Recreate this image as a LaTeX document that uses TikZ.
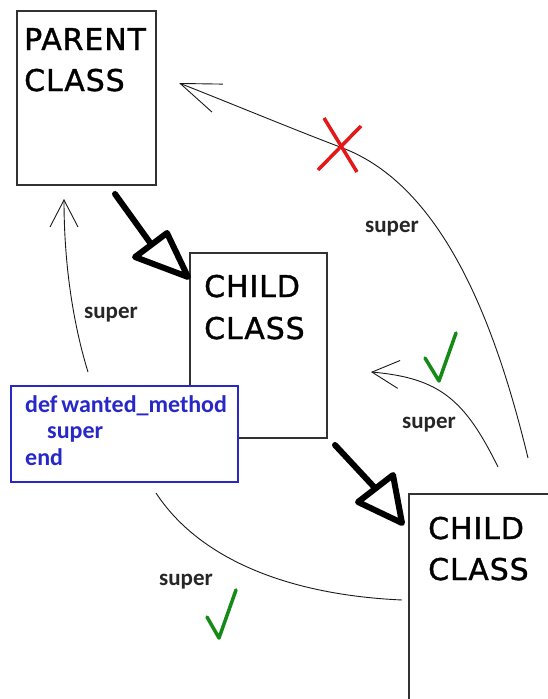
\documentclass[tikz,border=0pt]{standalone}
\usepackage{fontspec}
\setmainfont{DejaVu Sans}
\newfontfamily\bigfont[LetterSpace=3, FakeBold=1.2]{DejaVu Sans}
\newfontfamily\codefont{Carlito}
\usetikzlibrary{arrows.meta}
\definecolor{codeblue}{RGB}{40,40,200}
\definecolor{xred}{RGB}{228,24,24}
\definecolor{okgreen}{RGB}{22,138,22}
\definecolor{boxgray}{RGB}{50,50,50}
\tikzset{
  classbox/.style={draw=boxgray, line width=1.4pt, fill=white, inner sep=0pt},
  classlabel/.style={anchor=base west, inner sep=0pt, font=\bigfont\fontsize{30}{30}\selectfont},
  codebox/.style={draw=codeblue, line width=1.4pt, fill=white, inner sep=0pt},
  codeline/.style={anchor=base west, inner sep=0pt, text=codeblue, font=\codefont\bfseries\fontsize{24}{24}\selectfont},
  superlabel/.style={anchor=base west, inner sep=0pt, text=black!85, font=\codefont\bfseries\fontsize{23}{23}\selectfont},
  inherit/.style={line width=6pt, line cap=round},
  inherithead/.style={line width=6pt, line join=round},
  callarrow/.style={line width=0.9pt, black!90},
  smallbarb/.style={-{Straight Barb[length=27pt, width=28pt, line width=0.9pt]}},
  bigbarb/.style={-{Straight Barb[length=40pt, width=30pt, line width=0.9pt]}},
  crossmark/.style={xred, line width=3.5pt},
  tickmark/.style={okgreen, line width=3.5pt, line join=round, line cap=round}
}
\begin{document}
\begin{tikzpicture}[x=1pt,y=-1pt]
\useasboundingbox[fill=white] (0,0) rectangle (548,699);

% class boxes
\node[classbox, minimum width=139pt, minimum height=174pt] (parent) at (86.5,98) {};
\node[classbox, minimum width=137pt, minimum height=185pt] (child1) at (258.5,345.5) {};
\node[classbox, minimum width=141pt, minimum height=216pt] (child2) at (479.5,602) {};

\node[classlabel] (parentA) at (24,50) {PARENT};
\node[classlabel] (parentB) at (24,91) {CLASS};
\node[classlabel] (child1A) at (204,297) {CHILD};
\node[classlabel] (child1B) at (204,339) {CLASS};
\node[classlabel] (child2A) at (428,539) {CHILD};
\node[classlabel] (child2B) at (428,580) {CLASS};

% code box (on top of child1)
\node[codebox, minimum width=227pt, minimum height=96pt] (code) at (124.5,434) {};
\node[codeline] (codeA) at (25,412) {def\hspace{-1.5pt} wanted\_method};
\node[codeline] (codeB) at (47,438) {super};
\node[codeline] (codeC) at (25,465) {end};

% inheritance arrows (hand-drawn open triangles)
\coordinate (i1s) at (115,194);
\coordinate (i1b) at (151,244);
\coordinate (i1l) at (135,257);
\coordinate (i1r) at (167,233);
\coordinate (i1e) at (188,277);
\draw[inherit] (i1s) -- (i1b);
\draw[inherithead] (i1l) -- (i1r) -- (i1e) -- cycle;

\coordinate (i2s) at (335,445);
\coordinate (i2b) at (375,488);
\coordinate (i2l) at (358,502);
\coordinate (i2r) at (393,475);
\coordinate (i2e) at (402,523);
\draw[inherit] (i2s) -- (i2b);
\draw[inherithead] (i2l) -- (i2r) -- (i2e) -- cycle;

% super calls
\coordinate (l1s) at (88,372);
\coordinate (l1e) at (64,199);
\draw[callarrow, smallbarb] (l1s) .. controls (72,320) and (64,260) .. (l1e);

\coordinate (b1s) at (528,458);
\coordinate (xm) at (340,147);
\coordinate (b1e) at (179,83);
\draw[callarrow, bigbarb] (b1s) .. controls (497,330) and (445,185) .. (xm)
   .. controls (290,128) and (230,103) .. (b1e);

\coordinate (m1s) at (498,467);
\coordinate (m1e) at (371,372);
\draw[callarrow, smallbarb] (m1s) .. controls (465,400) and (440,378) .. (m1e);

\coordinate (c1s) at (156,493);
\coordinate (c1e) at (402,600);
\draw[callarrow] (c1s) .. controls (200,560) and (290,595) .. (c1e);

% labels
\node[superlabel] (sup1) at (84,318) {super};
\node[superlabel] (sup2) at (365,232) {super};
\node[superlabel] (sup3) at (402,428) {super};
\node[superlabel] (sup4) at (159,585) {super};

% marks
\draw[crossmark] (324,118) -- (357,172);
\draw[crossmark] (361,126) -- (318,170);
\draw[tickmark] (425,358) -- (439,381) -- (456,333);
\draw[tickmark] (207,617) -- (219,638) -- (236,590);
\end{tikzpicture}
\end{document}
